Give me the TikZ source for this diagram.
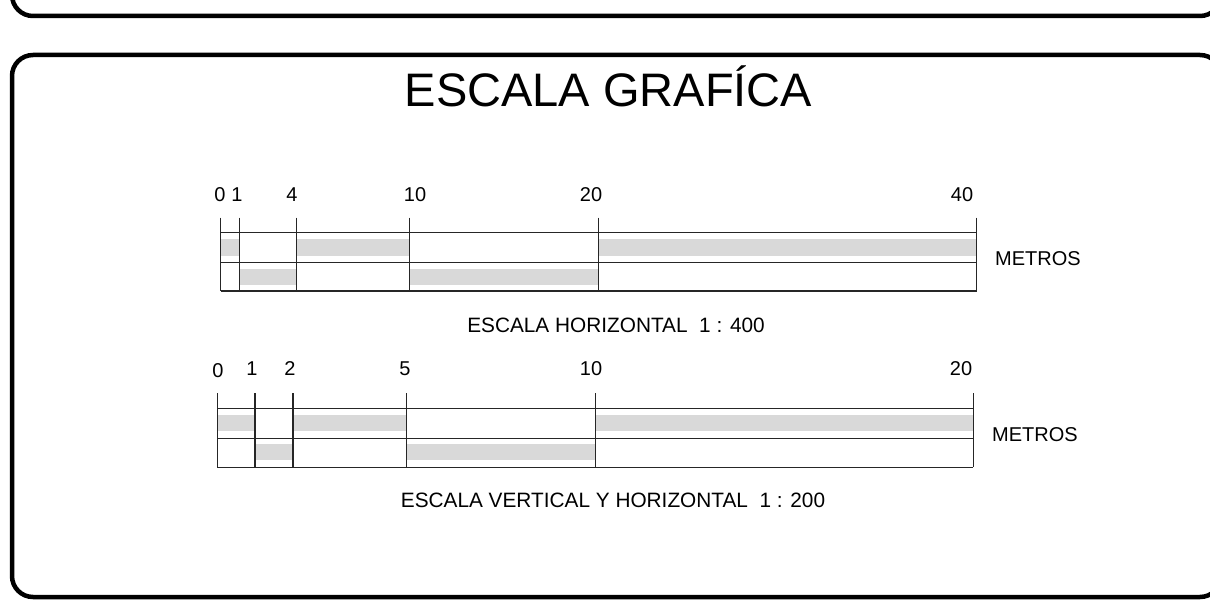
\documentclass[tikz,border=0pt]{standalone}
\usepackage{fontspec}
\setmainfont{Liberation Sans}
\usetikzlibrary{positioning}

\begin{document}
\begin{tikzpicture}[
    x=1pt,
    y=-1pt,
    frame/.style={line width=4.5pt, rounded corners=21pt},
    rule/.style={line width=1.3pt, black!85},
    band/.style={fill=black!15},
    lbl/.style={font=\fontsize{20}{24}\selectfont, inner sep=0pt},
    sublbl/.style={font=\fontsize{20.8}{24}\selectfont, inner sep=0pt},
    heading/.style={font=\fontsize{47}{54}\selectfont, inner sep=0pt}
  ]
  \useasboundingbox (0,0) rectangle (1210,607);

  % --- FRAMES ---
  \draw[frame] (12,-60) rectangle (1221,16);
  \draw[frame] (12,55) rectangle (1221,597);

  % --- TITLE ---
  \node[heading, anchor=base] (title) at (608.5,107) {ESCALA GRAFÍCA};

  % --- SCALE 1 : 400 ---
  \begin{scope}[shift={(220.7,0)}, x=18.9pt]
    \foreach \a/\b in {0/1, 4/10, 20/40}
      \fill[band] (\a,239) rectangle (\b,256);
    \foreach \a/\b in {1/4, 10/20}
      \fill[band] (\a,269) rectangle (\b,285);
    \foreach \y in {232.3, 262.3, 291}
      \draw[rule] (0,\y) -- (40,\y);
    \foreach \t in {0, 1, 4, 10, 20, 40}
      \draw[rule] (\t,217.7) -- (\t,291);
  \end{scope}

  \foreach \x/\t [count=\i] in {220/0, 237/1, 292/4, 415/10, 591/20, 962/40}
    \node[lbl, anchor=base] (top\i) at (\x,201.7) {\t};
  \node[lbl, anchor=west] (metrosA) at (995,259) {METROS};
  \node[sublbl, anchor=base] (scaleA) at (616,332) {ESCALA HORIZONTAL\ \ 1 : 400};

  % --- SCALE 1 : 200 ---
  \begin{scope}[shift={(217.3,0)}, x=37.8pt]
    \foreach \a/\b in {0/1, 2/5, 10/20}
      \fill[band] (\a,415) rectangle (\b,431);
    \foreach \a/\b in {1/2, 5/10}
      \fill[band] (\a,444) rectangle (\b,460);
    \foreach \y in {408.3, 438.3, 467.3}
      \draw[rule] (0,\y) -- (20,\y);
    \foreach \t in {0, 1, 2, 5, 10, 20}
      \draw[rule] (\t,393.3) -- (\t,467.3);
  \end{scope}

  \node[lbl, anchor=base] (bot0) at (218,377) {0};
  \foreach \x/\t [count=\i] in {252/1, 290/2, 405/5, 591/10, 961/20}
    \node[lbl, anchor=base] (bot\i) at (\x,375) {\t};
  \node[lbl, anchor=west] (metrosB) at (992,435) {METROS};
  \node[sublbl, anchor=base] (scaleB) at (613,507) {ESCALA VERTICAL Y HORIZONTAL\ \ 1 : 200};

\end{tikzpicture}
\end{document}
